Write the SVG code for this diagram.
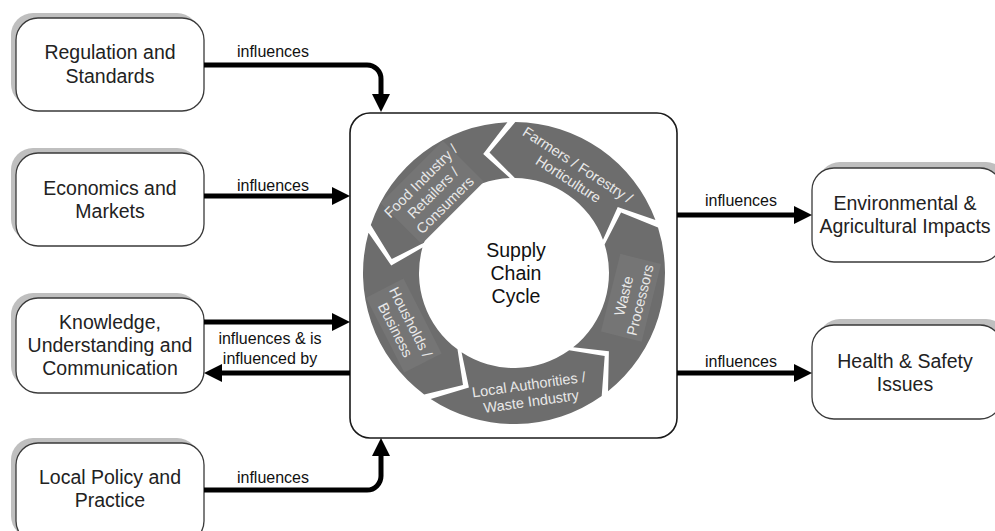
<svg xmlns="http://www.w3.org/2000/svg" width="995" height="531" viewBox="0 0 995 531">
<style>
.box{fill:#fff;stroke:#3a3a3a;stroke-width:1.3}
.shadow{fill:#bfbfbf}
.bt{font-family:"Liberation Sans",Arial,sans-serif;font-size:19.5px;fill:#222;text-anchor:middle}
.lbl{font-family:"Liberation Sans",Arial,sans-serif;font-size:16px;fill:#111;text-anchor:middle}
.conn{fill:none;stroke:#000;stroke-width:5}
.seg{fill:#6d6d6d}
.segbox{fill:#757575}
.rt{font-family:"Liberation Sans",Arial,sans-serif;font-size:14.5px;fill:#e8e8e8;text-anchor:middle}
.ct{font-family:"Liberation Sans",Arial,sans-serif;font-size:19.5px;fill:#111;text-anchor:middle}
</style>
<defs>
<marker id="ah" markerUnits="userSpaceOnUse" markerWidth="18" markerHeight="18" refX="8" refY="9" orient="auto">
<path d="M0,0 L18,9 L0,18 Z" fill="#000"/>
</marker>
</defs>
<rect width="995" height="531" fill="#fff"/>

<g id="regulation">
<rect class="shadow" x="11" y="13" width="188" height="93" rx="22"/>
<rect class="box" x="16" y="18" width="188" height="93" rx="22"/>
<text class="bt" x="110" y="59">Regulation and</text>
<text class="bt" x="110" y="82.5">Standards</text>
</g>
<g id="economics">
<rect class="shadow" x="11" y="148" width="188" height="93" rx="22"/>
<rect class="box" x="16" y="153" width="188" height="93" rx="22"/>
<text class="bt" x="110" y="195">Economics and</text>
<text class="bt" x="110" y="218">Markets</text>
</g>
<g id="knowledge">
<rect class="shadow" x="11" y="293" width="188" height="95" rx="22"/>
<rect class="box" x="16" y="298" width="188" height="95" rx="22"/>
<text class="bt" x="110" y="329">Knowledge,</text>
<text class="bt" x="110" y="352">Understanding and</text>
<text class="bt" x="110" y="374.5">Communication</text>
</g>
<g id="localpolicy">
<rect class="shadow" x="11" y="438" width="188" height="100" rx="22"/>
<rect class="box" x="16" y="443" width="188" height="100" rx="22"/>
<text class="bt" x="110" y="484">Local Policy and</text>
<text class="bt" x="110" y="507">Practice</text>
</g>
<g id="environmental">
<rect class="shadow" x="818" y="162" width="190" height="94" rx="22"/>
<rect class="box" x="812" y="168" width="190" height="94" rx="22"/>
<text class="bt" x="905" y="210">Environmental &amp;</text>
<text class="bt" x="905" y="233">Agricultural Impacts</text>
</g>
<g id="health">
<rect class="shadow" x="818" y="319" width="190" height="94" rx="22"/>
<rect class="box" x="812" y="325" width="190" height="94" rx="22"/>
<text class="bt" x="905" y="368">Health &amp; Safety</text>
<text class="bt" x="905" y="391">Issues</text>
</g>

<g id="supplychain">
<rect x="350" y="113" width="327" height="325" rx="20" fill="#fff" stroke="#1a1a1a" stroke-width="1.6"/>
<g id="seg-farmers">
<path class="seg" d="M 515.32 122.0 A 151 151 0 0 1 655.44 220.12 L 617.74 206.91 L 602.98 239.73 A 95 95 0 0 0 514.83 178.0 L 489.48 152.47 Z"/>
<text class="rt" transform="translate(573,172) rotate(33)"><tspan x="0" y="-3.5">Farmers / Forestry /</tspan><tspan x="0" y="13.5">Horticulture</tspan></text>
</g>
<g id="seg-waste">
<path class="seg" d="M 658.01 227.59 A 151 151 0 0 1 608.00 391.17 L 608.91 351.24 L 573.14 347.35 A 95 95 0 0 0 604.60 244.43 L 621.05 212.43 Z"/>
<rect class="segbox" transform="translate(632,298) rotate(-76)" x="-40" y="-22" width="80" height="42"/>
<text class="rt" transform="translate(632,298) rotate(-76)"><tspan x="0" y="-3.5">Waste</tspan><tspan x="0" y="13.5">Processors</tspan></text>
</g>
<g id="seg-local">
<path class="seg" d="M 601.69 395.93 A 151 151 0 0 1 430.66 398.92 L 468.92 387.44 L 461.57 352.22 A 95 95 0 0 0 569.17 350.34 L 604.69 356.10 Z"/>
<text class="rt" transform="translate(530,393) rotate(-8)"><tspan x="0" y="-3.5">Local Authorities /</tspan><tspan x="0" y="13.5">Waste Industry</tspan></text>
</g>
<g id="seg-households">
<path class="seg" d="M 424.18 394.38 A 151 151 0 0 1 368.49 232.65 L 391.23 265.49 L 422.46 247.61 A 95 95 0 0 0 457.49 349.37 L 462.99 384.93 Z"/>
<rect class="segbox" transform="translate(403,326) rotate(63)" x="-42" y="-22" width="84" height="42"/>
<text class="rt" transform="translate(403,326) rotate(63)"><tspan x="0" y="-3.5">Housholds /</tspan><tspan x="0" y="13.5">Business</tspan></text>
</g>
<g id="seg-food">
<path class="seg" d="M 370.80 225.09 A 151 151 0 0 1 507.41 122.14 L 483.20 153.92 L 509.86 178.09 A 95 95 0 0 0 423.91 242.86 L 391.79 259.08 Z"/>
<rect class="segbox" transform="translate(433,193) rotate(-45)" x="-44" y="-30" width="88" height="58"/>
<text class="rt" transform="translate(433,193) rotate(-45)"><tspan x="0" y="-12">Food Industry /</tspan><tspan x="0" y="5">Retailers /</tspan><tspan x="0" y="22">Consumers</tspan></text>
</g>
<text class="ct" x="516" y="257">Supply</text>
<text class="ct" x="516" y="280">Chain</text>
<text class="ct" x="516" y="303">Cycle</text>
</g>

<g id="connectors">
<path class="conn" d="M 204 65 H 367 A 14 14 0 0 1 381 79 V 102" marker-end="url(#ah)"/>
<path class="conn" d="M 204 196 H 340" marker-end="url(#ah)"/>
<path class="conn" d="M 204 322 H 340" marker-end="url(#ah)"/>
<path class="conn" d="M 350 373 H 214" marker-end="url(#ah)"/>
<path class="conn" d="M 204 490 H 367 A 14 14 0 0 0 381 476 V 448" marker-end="url(#ah)"/>
<path class="conn" d="M 677 215 H 802" marker-end="url(#ah)"/>
<path class="conn" d="M 677 373 H 802" marker-end="url(#ah)"/>
<text class="lbl" x="273" y="57">influences</text>
<text class="lbl" x="273" y="191">influences</text>
<text class="lbl" x="270" y="344">influences &amp; is</text>
<text class="lbl" x="270" y="364">influenced by</text>
<text class="lbl" x="273" y="483">influences</text>
<text class="lbl" x="741" y="206">influences</text>
<text class="lbl" x="741" y="367">influences</text>
</g>
</svg>
